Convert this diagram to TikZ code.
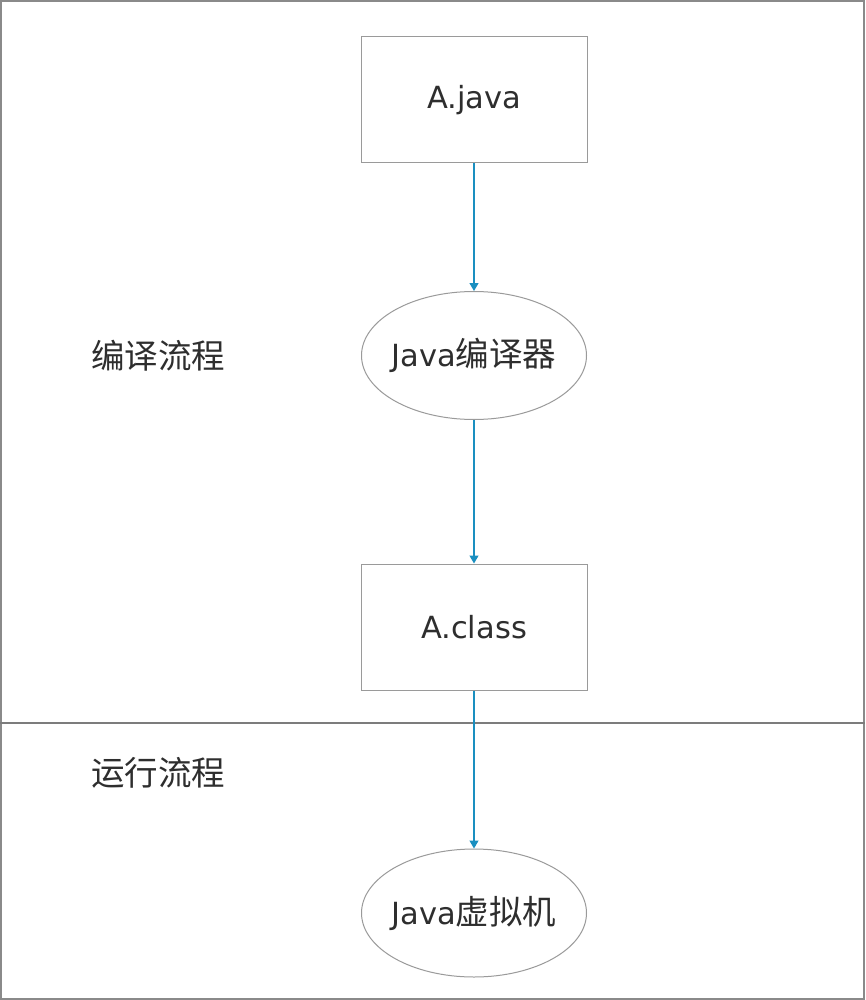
\documentclass[tikz,border=0pt]{standalone}
\usepackage{fontspec}
\setmainfont{DejaVu Sans}
\newfontfamily\cjk{Noto Sans CJK SC}
\usetikzlibrary{shapes.geometric,arrows.meta}
\definecolor{txt}{HTML}{2E2E2E}
\definecolor{edge}{HTML}{9A9A9A}
\definecolor{frame}{HTML}{8A8A8A}
\definecolor{flow}{HTML}{1A8FC0}
\newcommand{\lat}{\fontsize{30.5}{36}\selectfont}
\newcommand{\zh}[1]{{\cjk\fontsize{33.5}{36}\selectfont #1}}
\tikzset{
  filebox/.style={draw=edge, line width=1pt, rectangle, minimum width=226pt, minimum height=126pt, inner sep=0pt, text=txt, font=\lat},
  procell/.style={draw=edge, line width=1pt, ellipse, minimum width=225pt, minimum height=128pt, inner sep=0pt},
  proctext/.style={text=txt, font=\lat, inner sep=0pt},
  stagelabel/.style={text=txt, inner sep=0pt},
  flowarrow/.style={draw=flow, line width=1.3pt, -{Triangle[width=9pt,length=8pt]}},
  divider/.style={draw=frame!90!black, line width=1.5pt},
}
\begin{document}
\begin{tikzpicture}[x=1pt,y=-1pt]
\useasboundingbox (0,0) rectangle (865,1000);
\fill[white] (0,0) rectangle (865,1000);
\draw[frame, line width=2pt] (1,1) rectangle (864,999);
\coordinate (divL) at (0,723);
\coordinate (divR) at (865,723);
\draw[divider] (divL) -- (divR);
\node[filebox] (ajava) at (474,100) {A.java};
\node[procell, label={[proctext]center:Java\zh{编译器}}] (compiler) at (474,355.5) {};
\node[filebox] (aclass) at (474,627) {A.class};
\node[procell, label={[proctext]center:Java\zh{虚拟机}}] (jvm) at (474,913) {};
\node[stagelabel] (compile) at (158,356) {\zh{编译流程}};
\node[stagelabel] (run) at (158,773) {\zh{运行流程}};
\draw[flowarrow] (ajava.south) -- (compiler.north);
\draw[flowarrow] (compiler.south) -- (aclass.north);
\draw[flowarrow] (aclass.south) -- (jvm.north);
\end{tikzpicture}
\end{document}
